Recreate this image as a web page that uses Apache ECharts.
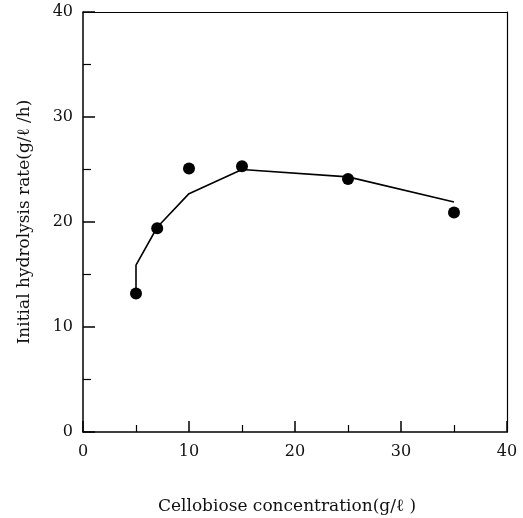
<!DOCTYPE html>
<html>
<head>
<meta charset="utf-8">
<script src="https://cdn.jsdelivr.net/npm/echarts@6/dist/echarts.min.js"></script>
<style>
html,body{margin:0;padding:0;background:#fff;}
#chart{width:523px;height:518px;}
</style>
</head>
<body>
<div id="chart"></div>
<script>
// Measured data points (cellobiose concentration, g/L -> initial hydrolysis rate, g/L/h)
var pointX = [5, 7, 10, 15, 25, 35];
var pointY = [13.2, 19.4, 25.1, 25.3, 24.1, 20.9];
// Model curve
var curveX = [5, 5, 7, 10, 15, 25, 35];
var curveY = [13.2, 15.9, 19.5, 22.7, 25.0, 24.3, 21.9];
// Axis ticks
var xTicks = [0, 10, 20, 30, 40];
var yTicks = [0, 10, 20, 30, 40];
var xTitle = 'Cellobiose concentration(g/\u2113 )';
var yTitle = 'Initial hydrolysis rate(g/\u2113 /h)';

var FONT = '"DejaVu Serif", "Liberation Serif", serif';
var points = pointX.map(function (x, i) { return [x, pointY[i]]; });
var curve = curveX.map(function (x, i) { return [x, curveY[i]]; });

var chart = echarts.init(document.getElementById('chart'), null, {renderer: 'canvas'});
function axisBase() {
  return {
    type: 'value', min: xTicks[0], max: xTicks[xTicks.length - 1], interval: 10,
    splitLine: {show: false},
    axisLine: {show: true, onZero: false, lineStyle: {color: '#000', width: 1.5}}
  };
}
chart.setOption({
  animation: false,
  backgroundColor: '#fff',
  grid: {left: 83, right: 16, top: 12, bottom: 86, containLabel: false, outerBoundsMode: 'none'},
  xAxis: [
    Object.assign(axisBase(), {
      position: 'bottom',
      name: xTitle, nameLocation: 'middle', nameGap: 66,
      nameTextStyle: {fontFamily: FONT, fontSize: 17, color: '#111', padding: [0, 16, 0, 0]},
      axisTick: {show: true, inside: true, length: 11, lineStyle: {color: '#000', width: 1.5}},
      minorTick: {show: true, splitNumber: 2, length: 7, lineStyle: {color: '#000', width: 1.2}},
      axisLabel: {margin: 12, fontFamily: FONT, fontSize: 16, color: '#111'}
    }),
    Object.assign(axisBase(), {
      position: 'top', axisTick: {show: false}, axisLabel: {show: false},
      axisLine: {show: true, onZero: false, lineStyle: {color: '#000', width: 1}}
    })
  ],
  yAxis: [
    Object.assign(axisBase(), {
      min: yTicks[0], max: yTicks[yTicks.length - 1],
      position: 'left',
      name: yTitle, nameLocation: 'middle', nameGap: 50,
      nameTextStyle: {fontFamily: FONT, fontSize: 17, color: '#111'},
      axisTick: {show: true, inside: true, length: 12, lineStyle: {color: '#000', width: 1.5}},
      minorTick: {show: true, splitNumber: 2, length: 8, lineStyle: {color: '#000', width: 1.2}},
      axisLabel: {margin: 10, fontFamily: FONT, fontSize: 16, color: '#111'}
    }),
    Object.assign(axisBase(), {
      min: yTicks[0], max: yTicks[yTicks.length - 1],
      position: 'right', axisTick: {show: false}, axisLabel: {show: false},
      axisLine: {show: true, onZero: false, lineStyle: {color: '#000', width: 1.2}}
    })
  ],
  series: [
    {
      type: 'line', data: curve, xAxisIndex: 0, yAxisIndex: 0,
      showSymbol: false, symbol: 'none',
      lineStyle: {color: '#000', width: 1.6}, z: 2
    },
    {
      type: 'scatter', data: points, xAxisIndex: 0, yAxisIndex: 0,
      symbol: 'circle', symbolSize: 12,
      itemStyle: {color: '#000', opacity: 1}, z: 3
    }
  ]
});
</script>
</body>
</html>
